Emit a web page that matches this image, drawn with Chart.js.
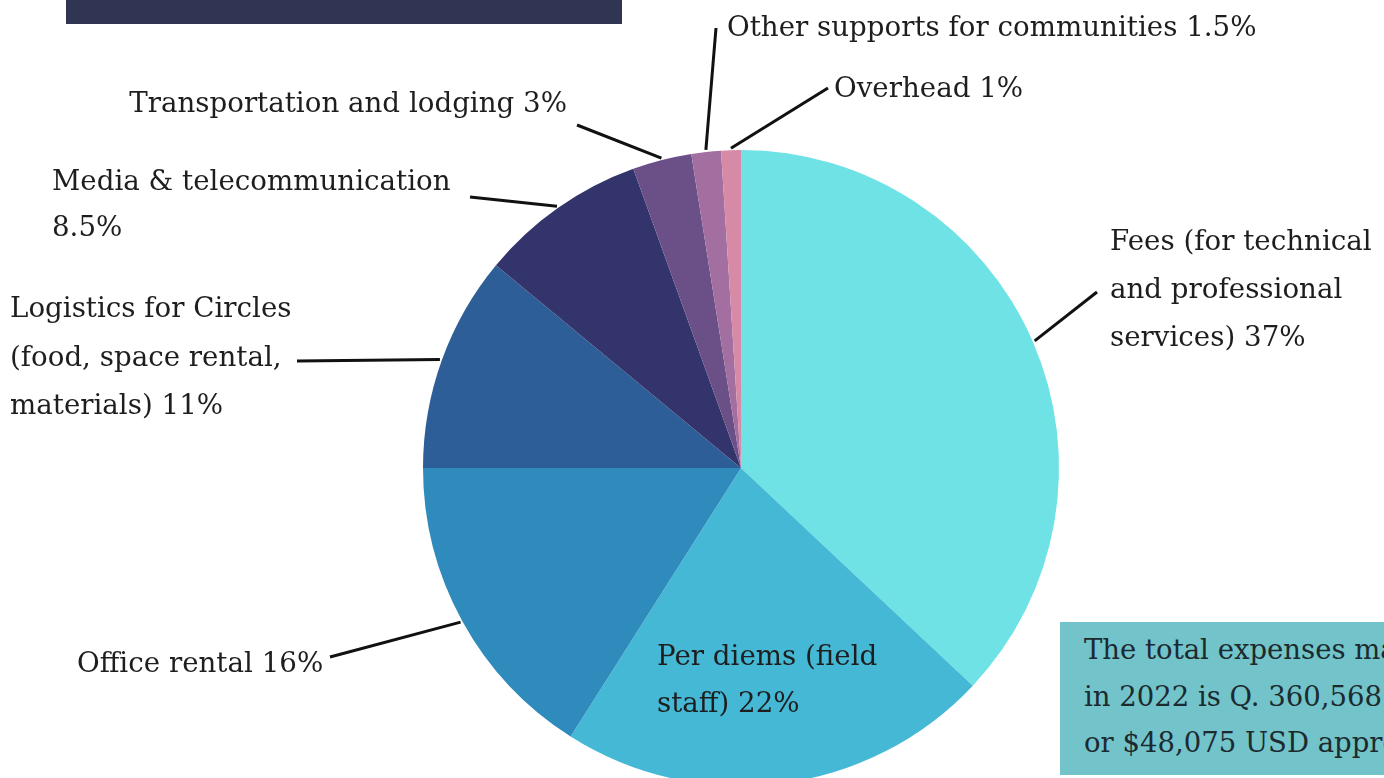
<!DOCTYPE html>
<html lang="en">
<head>
  <meta charset="UTF-8">
  <title>Expenses 2022</title>
  <script src="https://cdn.jsdelivr.net/npm/chart.js"></script>
  <style>
    html, body { margin: 0; padding: 0; background: #fff; overflow: hidden; width: 1384px; height: 778px; }
    #wrap { position: absolute; left: 0; top: 0; width: 1384px; height: 800px; }
    #titleBar { position: absolute; left: 66px; top: 0; width: 556px; height: 24px; background: #2f3553; }
    #totalBox {
      position: absolute; left: 1060px; top: 622px; width: 420px; height: 153px;
      background: #72c4ca; color: #1c2a30; font-family: "DejaVu Serif", serif; font-size: 27.5px;
      line-height: 46.5px; padding: 4px 0 0 24px; box-sizing: border-box; white-space: nowrap;
    }
  </style>
</head>
<body>
  <div id="wrap"><canvas id="myChart"></canvas></div>
  <div id="titleBar"></div>
  <div id="totalBox">The total expenses made<br>in 2022 is Q. 360,568.80<br>or $48,075 USD approx.</div>

  <script>
    // categories clockwise from 12 o'clock
    const categories = [
      'Fees (for technical and professional services)',
      'Per diems (field staff)',
      'Office rental',
      'Logistics for Circles (food, space rental, materials)',
      'Media & telecommunication',
      'Transportation and lodging',
      'Other supports for communities',
      'Overhead'
    ];
    const values = [37, 22, 16, 11, 8.5, 3, 1.5, 1];
    const colors = ['#6ee2e5', '#44b8d5', '#2f8bbb', '#2d5e97', '#34346c', '#6b5088', '#a36ea0', '#d68aa6'];

    // label text as it is broken on the picture (value is appended to the last line)
    const labelLines = [
      ['Fees (for technical', 'and professional', 'services)'],
      ['Per diems (field', 'staff)'],
      ['Office rental'],
      ['Logistics for Circles', '(food, space rental,', 'materials)'],
      ['Media & telecommunication', ''],
      ['Transportation and lodging'],
      ['Other supports for communities'],
      ['Overhead']
    ];

    // label placement: text anchor, line height, alignment, leader line end (null = inside slice)
    const labelPlace = [
      { x: 1110, y: 243, lh: 48, align: 'left', end: [1097, 292] },
      { x: 657, y: 658, lh: 47, align: 'left', end: null },
      { x: 77, y: 665, lh: 47, align: 'left', end: [330, 657] },
      { x: 10, y: 310, lh: 48.5, align: 'left', end: [297, 361] },
      { x: 52, y: 183, lh: 46, align: 'left', end: [470, 197] },
      { x: 567, y: 105, lh: 46, align: 'right', end: [577, 125] },
      { x: 727, y: 29, lh: 46, align: 'left', end: [716, 28] },
      { x: 834, y: 90, lh: 46, align: 'left', end: [828, 88] }
    ];

    const labelPlugin = {
      id: 'sliceLabels',
      afterDraw(chart) {
        const ctx = chart.ctx;
        const meta = chart.getDatasetMeta(0);
        ctx.save();
        meta.data.forEach((arc, i) => {
          const p = arc.getProps(['x', 'y', 'startAngle', 'endAngle', 'outerRadius'], true);
          const place = labelPlace[i];
          if (place.end) {
            const mid = (p.startAngle + p.endAngle) / 2;
            ctx.beginPath();
            ctx.moveTo(p.x + Math.cos(mid) * (p.outerRadius + 2), p.y + Math.sin(mid) * (p.outerRadius + 2));
            ctx.lineTo(place.end[0], place.end[1]);
            ctx.lineWidth = 3;
            ctx.strokeStyle = '#111';
            ctx.stroke();
          }
          const lines = labelLines[i].slice();
          lines[lines.length - 1] = (lines[lines.length - 1] + ' ' + values[i] + '%').trim();
          ctx.font = '27.7px "DejaVu Serif", serif';
          ctx.fillStyle = '#1e1e1e';
          ctx.textAlign = place.align;
          ctx.textBaseline = 'middle';
          lines.forEach((t, k) => ctx.fillText(t, place.x, place.y + k * place.lh));
        });
        ctx.restore();
      }
    };

    const ctx = document.getElementById('myChart').getContext('2d');
    const myChart = new Chart(ctx, {
      type: 'pie',
      data: {
        labels: categories,
        datasets: [{
          data: values,
          backgroundColor: colors,
          borderWidth: 0
        }]
      },
      options: {
        responsive: true,
        maintainAspectRatio: false,
        animation: false,
        layout: { padding: { left: 423, right: 325, top: 150, bottom: 14 } },
        plugins: {
          legend: { display: false },
          tooltip: { enabled: false }
        }
      },
      plugins: [labelPlugin]
    });
  </script>
</body>
</html>
